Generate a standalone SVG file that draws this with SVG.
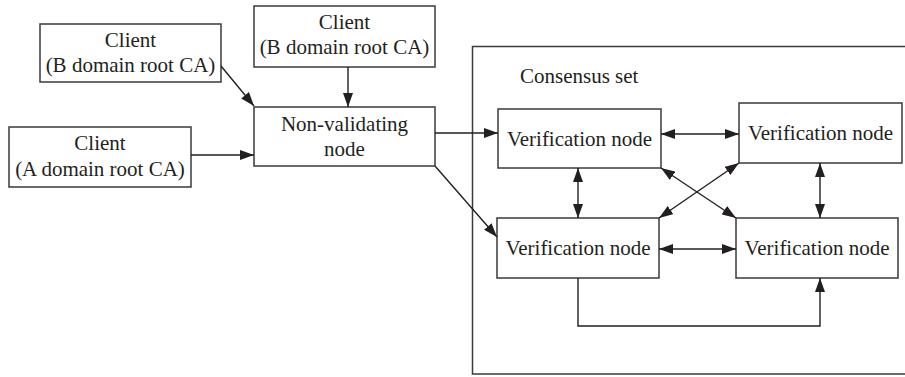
<svg xmlns="http://www.w3.org/2000/svg" width="905" height="377" viewBox="0 0 905 377">
<defs>
<marker id="ah" markerUnits="userSpaceOnUse" markerWidth="15" markerHeight="10" refX="14" refY="5" orient="auto-start-reverse" viewBox="0 0 15 10">
<path d="M0,0 L14,5 L0,10 z" fill="#231f20"/>
</marker>
<style>
.box{fill:#fff;stroke:#3a3a3a;stroke-width:1.5}
.t{font-family:"Liberation Serif","Times New Roman",serif;font-size:21px;fill:#231f20;text-anchor:middle}
.c{fill:none;stroke:#231f20;stroke-width:1.4}
</style>
</defs>
<rect width="905" height="377" fill="#fff"/>
<g id="consensus-set">
<rect x="472.5" y="46.5" width="450" height="327.5" fill="none" stroke="#3a3a3a" stroke-width="1.5"/>
<text class="t" x="520" y="83" style="text-anchor:start">Consensus set</text>
</g>
<g id="client-b-left">
<rect class="box" x="40" y="24" width="181" height="58"/>
<text class="t" x="130.5" y="47">Client</text>
<text class="t" x="130.5" y="72">(B domain root CA)</text>
</g>
<g id="client-b-top">
<rect class="box" x="254" y="6" width="181" height="61"/>
<text class="t" x="344.5" y="29">Client</text>
<text class="t" x="344.5" y="54">(B domain root CA)</text>
</g>
<g id="client-a">
<rect class="box" x="9" y="127" width="182" height="60"/>
<text class="t" x="100" y="150">Client</text>
<text class="t" x="100" y="176">(A domain root CA)</text>
</g>
<g id="non-validating">
<rect class="box" x="254" y="107" width="181" height="59"/>
<text class="t" x="344.5" y="131">Non-validating</text>
<text class="t" x="344.5" y="156">node</text>
</g>
<g id="verif-tl">
<rect class="box" x="498" y="109" width="163" height="59"/>
<text class="t" x="579.5" y="146">Verification node</text>
</g>
<g id="verif-tr">
<rect class="box" x="739" y="103" width="163" height="60"/>
<text class="t" x="820.5" y="140">Verification node</text>
</g>
<g id="verif-bl">
<rect class="box" x="497" y="218" width="162" height="60"/>
<text class="t" x="578" y="255">Verification node</text>
</g>
<g id="verif-br">
<rect class="box" x="736" y="218" width="162" height="60"/>
<text class="t" x="817" y="255">Verification node</text>
</g>
<g id="connectors">
<line class="c" x1="221" y1="66" x2="254" y2="106" marker-end="url(#ah)"/>
<line class="c" x1="348" y1="67" x2="348" y2="107" marker-end="url(#ah)"/>
<line class="c" x1="191" y1="155" x2="254" y2="155" marker-end="url(#ah)"/>
<line class="c" x1="435" y1="133" x2="498" y2="133" marker-end="url(#ah)"/>
<line class="c" x1="435" y1="166" x2="497" y2="237" marker-end="url(#ah)"/>
<line class="c" x1="661" y1="134" x2="739" y2="134" marker-start="url(#ah)" marker-end="url(#ah)"/>
<line class="c" x1="578" y1="168" x2="578" y2="218" marker-start="url(#ah)" marker-end="url(#ah)"/>
<line class="c" x1="820" y1="163" x2="820" y2="218" marker-start="url(#ah)" marker-end="url(#ah)"/>
<line class="c" x1="659" y1="249" x2="736" y2="249" marker-start="url(#ah)" marker-end="url(#ah)"/>
<line class="c" x1="661" y1="168" x2="736" y2="218" marker-start="url(#ah)" marker-end="url(#ah)"/>
<line class="c" x1="739" y1="163" x2="659" y2="218" marker-start="url(#ah)" marker-end="url(#ah)"/>
<polyline class="c" points="578,278 578,326 820,326 820,278" marker-end="url(#ah)"/>
</g>
</svg>
